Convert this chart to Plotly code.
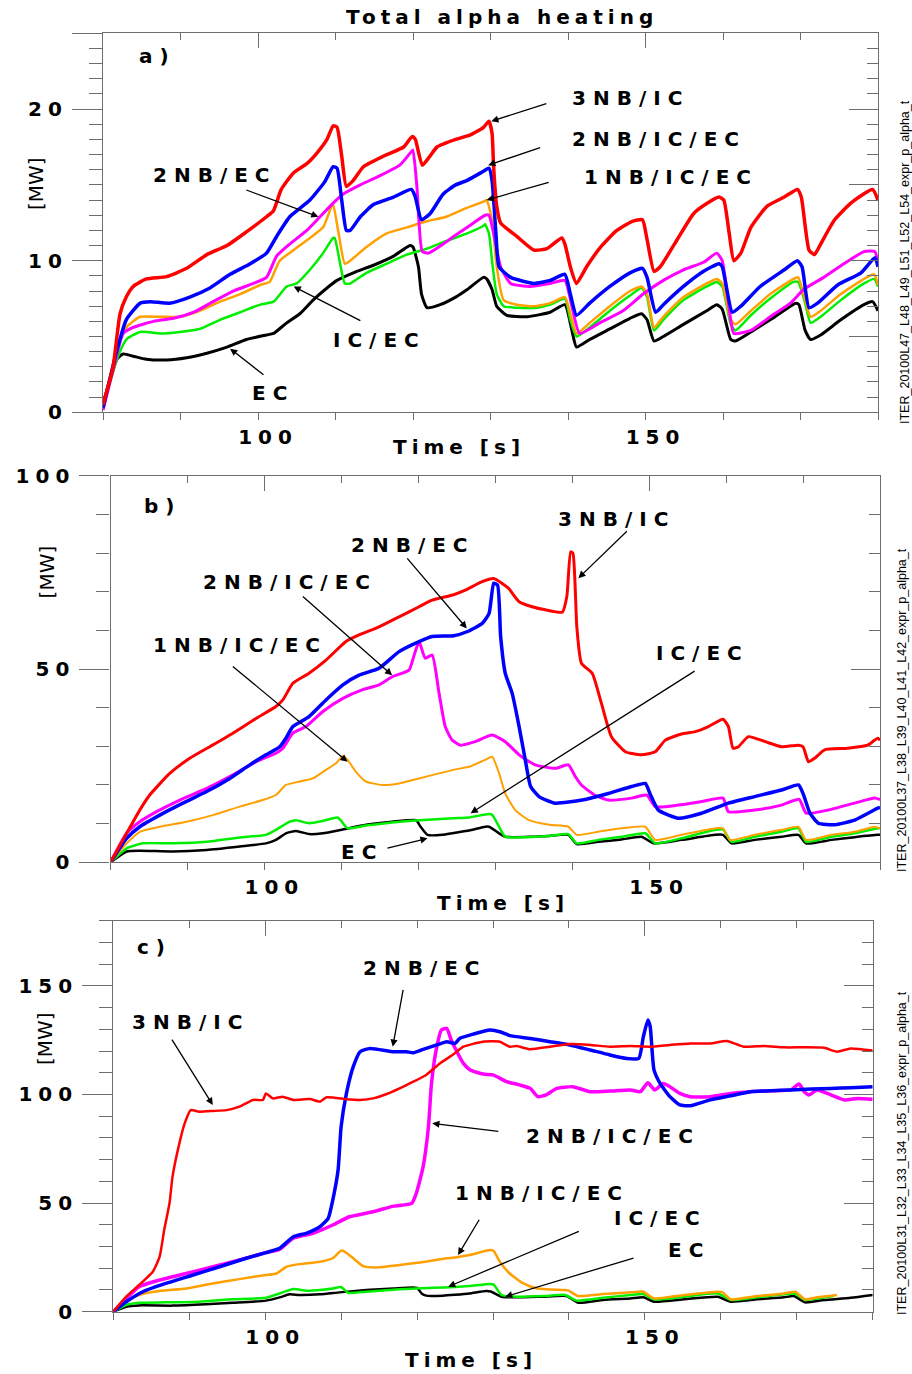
import plotly.graph_objects as go

# ---------------------------------------------------------------------------
# Total alpha heating [MW] vs time [s]; (time, power) samples for each scenario
# ---------------------------------------------------------------------------

# ---- panel a) ----
A_3NB_IC = [(80, 0.5), (81.3, 3.0), (82.2, 6.5), (83, 7.6), (83.9, 8.3), (85.6, 8.8), (88.2, 8.95), (90.8, 9.5),
            (93.4, 10.4), (96, 11.0), (98.5, 11.9), (101.1, 12.9), (102, 13.3), (103, 14.7), (104.6, 15.8),
            (106.3, 16.4), (107.6, 17.1), (108.9, 18.0), (109.7, 18.9), (110.2, 18.8), (110.8, 16.9), (111.4, 14.9),
            (112.3, 15.3), (113.6, 16.2), (116.2, 16.9), (118.8, 17.5), (119.9, 18.2), (120.3, 18.0), (121.2, 16.3),
            (122.2, 16.9), (123.1, 17.5), (125.5, 18.0), (127.4, 18.3), (129.1, 18.8), (129.8, 19.2), (130.2, 18.4),
            (130.4, 16.2), (130.8, 13.6), (131.3, 12.5), (133.4, 11.6), (135.6, 10.7), (137.3, 10.8), (139.2, 11.5),
            (139.6, 11.1), (140.3, 9.6), (141.1, 8.5), (142.4, 9.6), (144.2, 10.9), (146.3, 12.0), (148.3, 12.6),
            (149.6, 12.7), (150.2, 11.4), (151.1, 9.3), (151.9, 9.6), (154.1, 11.4), (156.2, 13.1), (158, 13.8),
            (159.5, 14.2), (160.1, 14.0), (160.8, 11.8), (161.4, 10.0), (162.3, 10.5), (163.6, 12.2), (165.7, 13.6),
            (167.9, 14.2), (169.6, 14.7), (170.1, 14.2), (171.1, 10.7), (171.8, 10.4), (172.6, 11.1), (174.4, 12.7),
            (176.5, 13.8), (179.3, 14.7), (180, 14.0)]
A_2NB_IC_EC = [(80, 0.3), (81.8, 4.1), (83, 6.1), (84.8, 7.2), (86.1, 7.3), (88.6, 7.2), (91.2, 7.6), (93.8, 8.2),
               (96.4, 9.1), (99, 9.8), (101.1, 10.5), (102.4, 11.6), (104.1, 12.9), (106.7, 14.0), (108.6, 15.2),
               (109.7, 16.2), (110.2, 16.1), (110.8, 14.0), (111.4, 12.0), (111.9, 12.0), (113.2, 12.9), (114.9, 13.7),
               (117.5, 14.2), (119.8, 14.7), (120.3, 14.2), (121.1, 12.7), (122.2, 13.1), (123.9, 14.4), (125.5, 15.0),
               (127, 15.3), (129.1, 15.9), (129.8, 16.1), (130.2, 15.3), (130.7, 11.8), (131.1, 9.6), (132.6, 8.9),
               (135.6, 8.5), (137.7, 8.7), (139.6, 9.1), (140.3, 7.8), (141.1, 6.4), (142.8, 7.2), (145.4, 8.3),
               (148, 9.2), (149.6, 9.5), (150.2, 8.9), (151.3, 6.6), (152.3, 7.1), (154.9, 8.3), (157.5, 9.3),
               (159.5, 9.8), (159.9, 9.6), (161.2, 6.6), (162.3, 7.0), (164.8, 8.3), (167.9, 9.4), (169.6, 10.0),
               (170.2, 9.6), (171.1, 6.9), (172.2, 7.2), (174.8, 8.4), (177.8, 9.2), (179.6, 10.2), (180, 9.6)]
A_2NB_EC = [(80, 0.15), (81.3, 2.8), (82.6, 5.2), (83.9, 5.6), (86.5, 6.0), (89.1, 6.2), (91.7, 6.6), (94.2, 7.3),
            (96.8, 8.0), (99.4, 8.5), (101.1, 8.9), (102.4, 10.3), (104.1, 11.1), (106.3, 12.0), (108, 12.9),
            (109.7, 13.8), (111, 14.4), (113.2, 15.0), (115.7, 15.6), (118.3, 16.3), (119.8, 17.2), (120.0, 17.3),
            (120.5, 14.9), (121.2, 10.6), (122, 10.5), (123.9, 11.1), (125.5, 11.7), (127, 12.2), (129.3, 13.0),
            (129.8, 13.0), (130.4, 11.8), (131.3, 9.6), (132.6, 8.5), (135.1, 8.3), (137.7, 8.5), (139.6, 8.7),
            (140.5, 7.0), (141.5, 5.2), (144.1, 5.9), (147.1, 6.7), (149.7, 7.8), (152.3, 8.7), (154.9, 9.4),
            (157.5, 9.9), (159.2, 10.5), (159.9, 10.0), (161.0, 6.1), (161.4, 5.2), (163.6, 5.4), (166.1, 6.3),
            (168.7, 7.2), (170.4, 8.1), (173, 8.9), (175.6, 9.8), (178.2, 10.6), (179.6, 10.6), (180, 9.8)]
A_1NB_IC_EC = [(80, 0.4), (81.8, 4.1), (83, 5.6), (84.8, 6.3), (87.4, 6.3), (89.9, 6.3), (92.5, 6.7), (95.1, 7.3),
               (97.7, 7.8), (100.3, 8.4), (101.5, 8.6), (102.8, 10.0), (104.6, 10.7), (106.7, 11.5), (108.4, 12.2),
               (109.5, 13.6), (109.7, 13.7), (110.4, 11.8), (111.2, 9.8), (111.9, 10.0), (114, 10.9), (116.6, 11.8),
               (119.2, 12.2), (121.8, 12.6), (124.3, 12.9), (127, 13.5), (129.1, 13.9), (129.5, 14.0), (130.2, 12.7),
               (130.8, 9.6), (131.7, 7.4), (133.4, 7.1), (135.6, 7.0), (137.7, 7.2), (139.6, 7.6), (140.3, 6.5),
               (141.1, 5.2), (142.8, 5.9), (145.4, 7.0), (148, 8.0), (149.5, 8.3), (150.2, 7.8), (151.1, 5.6),
               (152.3, 6.3), (154.9, 7.6), (157.9, 8.5), (159.2, 8.8), (159.9, 8.5), (161.0, 6.1), (161.6, 5.8),
               (163.6, 6.7), (166.1, 7.8), (169.1, 8.8), (169.7, 8.9), (170.6, 7.4), (171.3, 6.3), (172.6, 6.7),
               (175.2, 7.8), (178.2, 8.8), (179.5, 9.1), (180, 8.4)]
A_IC_EC = [(80, 0.3), (81.8, 3.5), (83, 4.8), (84.8, 5.3), (87.4, 5.2), (89.9, 5.3), (92.5, 5.5), (95.1, 6.1),
           (97.7, 6.6), (100.3, 7.1), (102, 7.3), (103.7, 8.3), (105, 8.5), (106.7, 9.4), (108.4, 10.5), (109.7, 11.5),
           (109.9, 11.5), (110.6, 9.8), (111.2, 8.5), (111.9, 8.5), (114, 9.2), (116.6, 9.8), (119.2, 10.4),
           (121.8, 10.8), (124.3, 11.3), (127, 11.8), (129.1, 12.3), (129.3, 12.4), (129.8, 11.8), (130.2, 10.0),
           (130.8, 7.8), (131.7, 7.0), (133.4, 6.9), (136, 6.9), (137.7, 7.1), (139.6, 7.5), (140.3, 6.1),
           (141.1, 5.0), (142.8, 5.6), (145.4, 6.7), (148, 7.7), (149.5, 8.2), (150.2, 7.6), (151.1, 5.4),
           (152.3, 6.1), (154.9, 7.4), (157.9, 8.3), (159.2, 8.6), (159.9, 8.3), (161, 5.8), (161.6, 5.4),
           (163.6, 6.4), (166.1, 7.5), (169.1, 8.6), (169.7, 8.6), (170.6, 7.2), (171.3, 5.9), (172.6, 6.3),
           (175.2, 7.4), (178.2, 8.5), (179.5, 8.8), (180, 8.3)]
A_EC = [(80, 0.6), (80.9, 2.1), (81.8, 3.5), (82.6, 3.85), (83.9, 3.7), (85.6, 3.5), (88.2, 3.45), (90.8, 3.6),
        (93.4, 3.9), (96, 4.3), (98.5, 4.8), (101.1, 5.1), (102, 5.2), (103.7, 5.9), (105.4, 6.5), (107.1, 7.4),
        (108.9, 8.2), (110.2, 8.7), (112.3, 9.2), (114.9, 9.7), (117.5, 10.3), (119.6, 11.0), (120, 10.9),
        (120.7, 9.6), (121.1, 7.8), (121.8, 6.9), (123.5, 7.1), (125.5, 7.6), (127, 8.1), (129.1, 8.9),
        (129.5, 8.8), (130.2, 8.1), (130.8, 7.0), (132.1, 6.4), (134.7, 6.3), (137.7, 6.6), (139.6, 7.1),
        (140.5, 5.4), (141.1, 4.3), (142.8, 4.8), (145.4, 5.5), (148, 6.2), (149.5, 6.5), (150.2, 6.1),
        (151.1, 4.7), (152.3, 5.0), (154.9, 5.8), (157.9, 6.7), (159.2, 7.1), (159.9, 6.8), (161, 4.8),
        (161.6, 4.7), (163.6, 5.3), (166.1, 6.1), (169.4, 7.2), (169.8, 7.1), (170.6, 5.4), (171.3, 4.8),
        (172.6, 5.1), (175.2, 6.1), (178.2, 7.1), (179.3, 7.3), (180, 6.7)]

# ---- panel b) ----
B_3NB_IC = [(80, 0), (82.1, 7.5), (83.8, 13.5), (85.1, 17.4), (87.7, 23.0), (90.3, 26.9), (92.9, 29.9), (95.9, 33.4),
            (98.9, 37.2), (101.5, 40.3), (102.4, 42.0), (103.7, 46.3), (105.8, 48.9), (108, 52.3), (110.6, 57.1),
            (112.3, 58.8), (114.9, 60.9), (117.5, 63.5), (120.1, 66.1), (121.8, 67.8), (124.6, 69.2), (126.1, 70.4),
            (128.3, 72.6), (129.8, 73.4), (131.7, 70.9), (133.1, 67.4), (134.8, 66.1), (136.5, 65.3), (138.7, 64.7),
            (139.3, 68.7), (139.8, 80.3), (140.1, 79.9), (140.6, 60.9), (141.2, 51.5), (142.6, 48.9), (143.8, 41.1),
            (145.1, 32.5), (146.9, 28.6), (149, 27.8), (150.8, 28.6), (152.1, 31.6), (154.2, 33.2), (156, 33.8),
            (157.7, 35.1), (159.6, 37.0), (160.3, 35.1), (160.9, 29.5), (161.6, 29.9), (162.9, 32.5), (165.1, 31.2),
            (167.2, 29.9), (169.4, 30.3), (170, 29.9), (170.7, 26.0), (171.5, 26.9), (172.8, 29.1), (175.8, 29.5),
            (178.4, 30.3), (179.7, 32.1), (180, 31.6)]
B_2NB_EC = [(80, 0), (82.1, 6.2), (83.8, 9.2), (86.4, 12.2), (89.4, 15.3), (92.5, 18.3), (95.5, 21.7), (98.1, 25.2),
            (100.2, 27.8), (102, 29.9), (102.8, 32.1), (103.7, 35.1), (105.8, 37.7), (108, 42.0), (110.2, 45.9),
            (112.3, 48.4), (114.9, 50.2), (117.5, 54.5), (120.1, 57.1), (121.8, 58.4), (124.6, 58.6), (126.4, 59.7),
            (128.3, 61.8), (129.2, 64.4), (129.8, 72.2), (130.3, 71.7), (130.7, 58.4), (131.3, 48.9), (132.2, 43.7),
            (133.1, 35.1), (133.9, 26.5), (134.6, 19.6), (135.7, 17.0), (137.8, 15.3), (141.3, 16.1), (144.7, 17.8),
            (147.7, 19.6), (149.5, 20.4), (150.1, 17.8), (151.2, 13.5), (153.8, 11.4), (156.8, 12.7), (160.3, 15.3),
            (163.7, 17.0), (167.2, 18.7), (169.4, 20.0), (170, 17.8), (170.9, 12.7), (172, 10.1), (174.1, 9.7),
            (176.7, 10.9), (179.7, 14.0), (180, 14.2)]
B_2NB_IC_EC = [(80, 0), (82.1, 7.5), (83.8, 10.5), (86, 13.1), (89, 16.1), (92.5, 19.1), (95.9, 22.6), (98.9, 26.0),
               (101.5, 28.2), (102.4, 29.5), (103.7, 33.4), (105.4, 35.1), (107.6, 39.0), (110.2, 42.4), (112.7, 44.6),
               (114.9, 45.9), (116.6, 48.0), (118.8, 49.7), (119.4, 53.2), (120.1, 57.1), (120.9, 52.8), (121.8, 53.6),
               (122.7, 43.7), (123.5, 35.1), (124.4, 31.6), (125.5, 30.3), (127.4, 31.2), (129.6, 32.9), (131.3, 31.2),
               (133.1, 27.8), (135.2, 25.2), (137.8, 24.3), (139.5, 25.2), (140.4, 22.2), (141.2, 20.0), (142.9, 17.4),
               (144.7, 16.1), (147.7, 16.6), (149.7, 17.4), (150.8, 14.4), (153.8, 14.8), (156.8, 15.7), (159.6, 16.6),
               (160.3, 13.1), (163.7, 13.5), (167.2, 14.8), (169.5, 16.3), (170.4, 12.7), (173.2, 13.5), (176.7, 15.3),
               (179.3, 16.6), (180, 16.2)]
B_1NB_IC_EC = [(80, 0), (82.1, 4.9), (83.8, 7.9), (86.4, 9.2), (89.9, 10.5), (93.3, 12.2), (96.8, 14.4), (99.8, 16.1),
               (101.5, 17.4), (102.8, 20.0), (104.6, 20.9), (106.3, 21.7), (108, 23.9), (109.3, 25.6), (110.2, 27.5),
               (110.8, 26.5), (111.9, 23.4), (113.2, 20.9), (115.3, 20.0), (117.5, 20.4), (120.1, 21.7), (122.7, 23.0),
               (125, 24.1), (126.6, 24.7), (128.7, 26.5), (129.6, 27.3), (130.5, 23.0), (131.3, 17.8), (132.6, 13.5),
               (134.4, 10.9), (137, 9.7), (139.5, 9.2), (140.6, 7.1), (143.4, 7.9), (146.4, 8.8), (149.5, 9.2),
               (150.8, 5.8), (154.2, 7.1), (158.6, 8.8), (159.6, 8.8), (160.5, 5.8), (163.7, 7.1), (167.2, 8.4),
               (169.4, 9.2), (170.4, 5.8), (173.7, 7.1), (176.7, 7.9), (179.3, 9.2), (180, 8.8)]
B_IC_EC = [(80, 0), (82.1, 3.6), (84.2, 4.9), (88.1, 4.9), (92.5, 5.3), (96.8, 6.4), (100.2, 7.1), (101.5, 8.4),
           (103.3, 10.5), (104.1, 10.9), (105.8, 10.1), (107.6, 10.7), (109.5, 11.6), (109.9, 10.9), (110.8, 8.8),
           (113.2, 9.5), (116.6, 10.3), (120.1, 10.9), (124.6, 11.4), (126.6, 11.6), (129.2, 12.5), (129.6, 12.3),
           (130.5, 9.2), (131.3, 6.6), (133.9, 6.5), (137, 6.8), (139.5, 7.3), (140.6, 4.9), (143.4, 5.8),
           (146.4, 6.6), (149.5, 7.5), (150.8, 4.9), (154.2, 6.2), (158.6, 8.4), (159.6, 8.5), (160.7, 5.3),
           (163.7, 6.6), (167.2, 7.9), (169.4, 8.8), (170.4, 5.3), (173.7, 6.6), (176.7, 7.5), (179.7, 8.8), (180, 8.8)]
B_EC = [(80, 0), (82.1, 2.8), (83.8, 3.0), (88.1, 2.8), (92.5, 3.2), (96.8, 4.1), (100.2, 4.9), (101.5, 5.8),
        (102.8, 7.5), (104.1, 8.1), (105.8, 7.3), (107.6, 7.5), (110.2, 8.5), (113.2, 9.7), (116.6, 10.5),
        (119.7, 10.9), (120.3, 9.2), (121.2, 7.1), (123.1, 7.1), (124.6, 7.6), (126.6, 8.2), (128.7, 9.2),
        (129.2, 9.2), (130.5, 7.5), (131.3, 6.6), (134.8, 6.6), (137, 6.8), (139.5, 7.1), (140.6, 4.7), (143.4, 5.3),
        (146.4, 5.9), (149, 6.6), (150.6, 4.9), (154.2, 5.8), (158.6, 7.1), (159.6, 7.1), (160.7, 4.9), (163.7, 5.8),
        (167.2, 6.6), (169.4, 7.1), (170.4, 4.9), (173.7, 5.8), (176.7, 6.5), (179.7, 7.1), (180, 7.1)]

# ---- panel c) ----
C_3NB_IC = [(80, 0), (81.7, 6.9), (83.4, 12.3), (85.2, 18.4), (86.1, 25.3), (86.7, 37.6), (87.4, 49.9), (87.8, 62.2),
            (88.7, 77.5), (89.4, 86.7), (90.2, 92.8), (91.3, 92.1), (93.1, 92.4), (94.9, 92.8), (96.6, 94.4),
            (98.4, 97.5), (99.7, 97.5), (100.1, 100.5), (101, 98.2), (102.3, 99.0), (103.7, 97.5), (105.9, 97.9),
            (107.2, 96.7), (108.1, 98.7), (110.7, 97.8), (112.5, 97.5), (114.2, 98.2), (116, 100.2), (117.7, 102.8),
            (119.5, 105.9), (121.2, 109.0), (123, 114.3), (124.8, 118.5), (126.1, 122.0), (128.7, 124.3),
            (130.9, 124.3), (132.2, 122.0), (133.1, 122.3), (134.9, 120.8), (137.5, 122.0), (140.1, 123.2),
            (142.8, 122.8), (145.4, 122.0), (148.1, 122.3), (150.7, 122.0), (153.3, 122.8), (156, 123.5),
            (158.6, 123.5), (160.8, 124.6), (163, 122.0), (165.7, 122.3), (168.3, 121.7), (170.9, 121.7),
            (173.6, 121.5), (175.3, 119.7), (177.1, 121.2), (180, 120.2)]
C_2NB_EC = [(80, 0), (81.7, 4.6), (83.9, 9.2), (86.9, 13.0), (90.5, 16.9), (94, 20.7), (97.5, 24.6), (100.1, 27.2),
            (101.9, 29.2), (103.7, 34.5), (105.4, 36.1), (107.2, 39.1), (108.3, 43.0), (108.9, 51.4), (109.6, 65.2),
            (110, 85.2), (110.7, 100.5), (111.6, 112.8), (112.5, 119.7), (113.8, 121.2), (116.9, 119.7),
            (118.6, 119.7), (119.5, 119.2), (120.8, 120.8), (122.6, 122.8), (123.9, 124.3), (125, 123.5),
            (125.6, 125.8), (127.4, 127.8), (129.6, 129.7), (130.9, 128.9), (132.2, 127.1), (134.9, 125.8),
            (137.5, 124.3), (140.1, 122.8), (142.8, 120.5), (145.4, 118.2), (147.6, 116.6), (149.2, 116.6),
            (149.8, 126.6), (150.4, 134.3), (150.7, 131.2), (151.2, 111.3), (152, 105.1), (153.3, 99.0),
            (154.6, 95.2), (156, 94.8), (158.6, 97.5), (161.3, 99.4), (163.9, 101.3), (166.6, 101.7), (169.2, 102.1),
            (171.9, 102.5), (174.5, 102.8), (177.1, 103.1), (180, 103.6)]
C_2NB_IC_EC = [(80, 0), (81.7, 6.1), (83.4, 11.5), (86.1, 14.6), (89.6, 17.6), (93.1, 20.7), (96.6, 23.8),
               (100.1, 27.2), (101.9, 28.7), (103.7, 33.8), (106.3, 36.1), (108.9, 39.9), (111.1, 43.7),
               (114.2, 46.0), (116.9, 48.6), (119.3, 49.9), (119.9, 54.5), (120.8, 66.8), (121.5, 85.2),
               (121.9, 105.1), (122.6, 122.0), (123.2, 129.7), (123.9, 130.4), (124.5, 125.1), (125.2, 120.0),
               (126.1, 114.3), (127, 111.3), (128.7, 109.4), (130, 109.0), (131.8, 105.9), (133.5, 104.4),
               (134.9, 102.8), (135.9, 99.0), (137, 99.8), (138.4, 102.8), (140.5, 103.6), (142.8, 101.3),
               (145.4, 101.6), (148.1, 102.1), (149.4, 101.3), (150.4, 105.4), (151.3, 102.1), (152.4, 105.1),
               (153.3, 103.6), (154.6, 100.5), (156, 99.0), (158.6, 99.0), (161.3, 100.5), (163.9, 101.3),
               (166.6, 101.7), (169.2, 102.1), (170.3, 104.8), (171, 101.3), (171.6, 99.8), (172.7, 102.1),
               (174.5, 99.8), (176.3, 97.5), (178, 98.2), (180, 97.8)]
C_1NB_IC_EC = [(80, 0), (81.7, 4.6), (83.4, 7.7), (86.1, 9.5), (89.6, 10.7), (93.1, 13.0), (96.6, 15.0), (100.1, 16.9),
               (101.5, 17.6), (102.8, 20.7), (104.5, 21.9), (107.2, 23.0), (108.9, 24.6), (110, 28.1), (110.4, 27.8),
               (111.6, 24.6), (112.9, 21.0), (114.7, 20.4), (117.7, 21.5), (120.4, 22.6), (123, 24.1), (125, 25.0),
               (126.9, 26.1), (129.6, 28.4), (130.1, 28.0), (130.9, 23.0), (132.2, 17.6), (134, 13.0), (135.8, 10.7),
               (139.3, 10.0), (139.9, 9.8), (141.2, 7.2), (144.5, 8.1), (148.1, 8.9), (149.8, 9.2), (151.2, 6.1),
               (155.2, 7.7), (159.6, 9.2), (160.2, 9.0), (161.3, 5.7), (164.8, 7.2), (168.3, 8.4), (169.8, 9.2),
               (171.1, 5.7), (172.7, 6.6), (175.3, 7.7)]
C_IC_EC = [(80, 0), (81.7, 3.1), (83.4, 4.1), (86.9, 4.3), (91.3, 4.6), (95.7, 5.7), (100.1, 6.4), (101.9, 8.4),
           (103.7, 10.4), (105.4, 9.7), (107.2, 10.0), (108.9, 10.7), (110, 11.4), (110.9, 8.7), (113.3, 9.2),
           (117.7, 10.3), (122.1, 11.0), (125, 11.4), (126.9, 11.8), (129.6, 12.7), (130.1, 12.5), (131.1, 7.7),
           (133.1, 6.9), (136.6, 7.2), (139.5, 7.7), (141, 5.1), (144.5, 6.4), (148.1, 7.7), (149.8, 8.1),
           (151.2, 5.7), (155.2, 6.9), (159.6, 8.4), (161.3, 5.4), (164.8, 6.6), (168.3, 8.0), (169.8, 8.3),
           (171.1, 5.4), (172.7, 6.1), (174.9, 7.2)]
C_EC = [(80, 0), (81.7, 2.3), (83.4, 2.9), (87.8, 2.8), (92.2, 3.4), (95.7, 4.1), (100.1, 5.1), (101.9, 6.6),
        (103.2, 8.0), (104.5, 7.7), (107.2, 8.0), (109.8, 8.9), (113.3, 10.0), (116.9, 10.7), (120, 11.0),
        (120.6, 8.4), (121.2, 7.4), (123.4, 7.4), (125, 7.8), (126.9, 8.4), (129.1, 9.5), (129.7, 9.3), (131.1, 6.9),
        (133.1, 6.6), (136.6, 6.9), (139.7, 7.2), (141.2, 4.1), (144.5, 5.4), (148.1, 6.1), (149.8, 6.6),
        (151.2, 4.6), (155.2, 5.7), (159.6, 6.9), (161.3, 4.6), (164.8, 5.7), (168.3, 6.6), (169.6, 7.2),
        (171.1, 4.3), (173.6, 5.4), (177.1, 6.4), (180, 7.7)]

# axis settings
X_RANGE = [80, 180]
X_TICKS = [100, 150]
A_Y_RANGE, A_Y_LABELS, A_Y_RIGHT = [0, 25], [0, 10, 20, 25], [0, 5, 10, 15, 20, 25]
B_Y_RANGE, B_Y_LABELS, B_Y_RIGHT = [0, 100], [0, 50, 100], [0, 50, 100]
C_Y_RANGE, C_Y_LABELS, C_Y_RIGHT = [0, 180], [0, 50, 100, 150], [0, 50, 100, 150]
UNLABELLED = {25}

RUN_IDS = ["ITER_20100L47_L48_L49_L51_L52_L54_expr_p_alpha_t",
           "ITER_20100L37_L38_L39_L40_L41_L42_expr_p_alpha_t",
           "ITER_20100L31_L32_L33_L34_L35_L36_expr_p_alpha_t"]

RED, BLUE, MAGENTA, ORANGE, GREEN, BLACK = "#ff0000", "#0000ff", "#ff00ff", "#ffa000", "#00ee00", "#000000"
FONT = "DejaVu Sans"
AX_COLOR = "#6e6e6e"


def spaced(s, ls=6):
    return f'<span style="letter-spacing:{ls}px">{s}</span>'


panels = [
    dict(tag="a)", yr=A_Y_RANGE, ylab=A_Y_LABELS, yright=A_Y_RIGHT, ystep=1,
         xdom=[103 / 912, 878 / 912], ydom=[1 - 412.3 / 1374, 1 - 33.3 / 1374],
         series=[("EC", A_EC, BLACK, 3), ("IC/EC", A_IC_EC, GREEN, 2.5),
                 ("1NB/IC/EC", A_1NB_IC_EC, ORANGE, 2.5), ("2NB/EC", A_2NB_EC, MAGENTA, 3),
                 ("2NB/IC/EC", A_2NB_IC_EC, BLUE, 3.5), ("3NB/IC", A_3NB_IC, RED, 3.5)],
         labels=[("a)", 86.7, 23.5), ("3NB/IC", 147.7, 20.7), ("2NB/IC/EC", 151.3, 18.0),
                 ("1NB/IC/EC", 152.9, 15.5), ("2NB/EC", 94.0, 15.65), ("IC/EC", 115.3, 4.8), ("EC", 101.6, 1.3)],
         arrows=[((137.4, 20.4), (130.1, 19.2)), ((136.6, 17.5), (129.7, 16.3)), ((137.7, 15.2), (129.5, 14.0)),
                 ((98.3, 14.7), (107.8, 12.9)), ((113.4, 6.0), (104.6, 8.3)), ((100.9, 2.4), (96.4, 4.2))],
         ylabel_pos=(36, 184), xlabel_pos=(456, 447), run_pos=(905, 262)),
    dict(tag="b)", yr=B_Y_RANGE, ylab=B_Y_LABELS, yright=B_Y_RIGHT, ystep=10,
         xdom=[110.5 / 912, 880 / 912], ydom=[1 - 862.3 / 1374, 1 - 475.7 / 1374],
         series=[("EC", B_EC, BLACK, 2.5), ("IC/EC", B_IC_EC, GREEN, 2.5),
                 ("1NB/IC/EC", B_1NB_IC_EC, ORANGE, 2), ("2NB/IC/EC", B_2NB_IC_EC, MAGENTA, 3),
                 ("2NB/EC", B_2NB_EC, BLUE, 3.5), ("3NB/IC", B_3NB_IC, RED, 3)],
         labels=[("b)", 86.4, 92.2), ("2NB/EC", 118.9, 82.1), ("2NB/IC/EC", 103.0, 72.6),
                 ("1NB/IC/EC", 96.5, 56.2), ("3NB/IC", 145.4, 88.7), ("IC/EC", 156.6, 54.1), ("EC", 112.3, 2.7)],
         arrows=[((118.4, 79.0), (126.3, 60.5)), ((104.8, 69.1), (116.6, 48.4)), ((95.7, 51.0), (110.8, 26.0)),
                 ((147.3, 86.0), (140.8, 73.5)), ((156.1, 49.7), (126.8, 12.7)), ((115.8, 3.6), (121.2, 6.2))],
         ylabel_pos=(46.7, 571.7), xlabel_pos=(500, 903), run_pos=(902, 710)),
    dict(tag="c)", yr=C_Y_RANGE, ylab=C_Y_LABELS, yright=C_Y_RIGHT, ystep=10,
         xdom=[113.3 / 912, 872.7 / 912], ydom=[1 - 1311.7 / 1374, 1 - 920.7 / 1374],
         series=[("EC", C_EC, BLACK, 2.5), ("IC/EC", C_IC_EC, GREEN, 2.5),
                 ("1NB/IC/EC", C_1NB_IC_EC, ORANGE, 2.5), ("2NB/IC/EC", C_2NB_IC_EC, MAGENTA, 3.5),
                 ("2NB/EC", C_2NB_EC, BLUE, 3.5), ("3NB/IC", C_3NB_IC, RED, 2.5)],
         labels=[("c)", 85.0, 168.0), ("3NB/IC", 89.8, 133.5), ("2NB/EC", 120.6, 158.1),
                 ("2NB/IC/EC", 145.4, 80.9), ("1NB/IC/EC", 136.0, 54.5), ("IC/EC", 151.6, 43.0), ("EC", 155.4, 28.4)],
         arrows=[((87.6, 125.9), (93.1, 95.2)), ((118.2, 148.9), (116.8, 122.0)), ((130.9, 82.9), (122.0, 86.7)),
                 ((128.3, 43.0), (125.4, 26.1)), ((141.5, 37.3), (124.1, 11.5)), ((148.7, 24.9), (131.6, 6.9))],
         ylabel_pos=(45, 1039), xlabel_pos=(467.5, 1360), run_pos=(902, 1153)),
]

W, H = 912, 1374
fig = go.Figure()
layout = dict(width=W, height=H, margin=dict(l=0, r=0, t=0, b=0, pad=0, autoexpand=False), showlegend=False,
              plot_bgcolor="white", paper_bgcolor="white", annotations=[])


def paper(px, py):
    return px / W, 1 - py / H


tick_font = dict(family=FONT, size=20, color="black", weight="bold")
label_font = dict(family=FONT, size=20, color="black", weight="bold")
common = dict(automargin=False, showgrid=False, zeroline=False, fixedrange=True)

for i, p in enumerate(panels, start=1):
    sfx = "" if i == 1 else str(i)
    xid, yid = f"x{sfx}", f"y{sfx}"
    xt, yr_id = f"x{i + 3}", f"y{i + 3}"

    for name, pts, color, width in p["series"]:
        t, v = zip(*pts)
        fig.add_trace(go.Scatter(x=t, y=v, mode="lines", name=name, xaxis=xid, yaxis=yid,
                                 line=dict(color=color, width=width, shape="spline", smoothing=0.5),
                                 hoverinfo="skip"))
    # empty traces so that the top / right tick axes get their own subplots
    fig.add_trace(go.Scatter(x=[], y=[], xaxis=xt, yaxis=yid, hoverinfo="skip"))
    fig.add_trace(go.Scatter(x=[], y=[], xaxis=xid, yaxis=yr_id, hoverinfo="skip"))

    layout[f"xaxis{sfx}"] = dict(
        domain=p["xdom"], range=X_RANGE, anchor=yid, showline=True, mirror=True, linecolor=AX_COLOR,
        linewidth=1.3, ticks="outside", ticklen=7, tickwidth=1, tickcolor=AX_COLOR,
        tickmode="array", tickvals=X_TICKS, ticktext=[spaced(str(v)) for v in X_TICKS], tickfont=tick_font,
        ticklabelshift=10, ticklabelstandoff=0,
        minor=dict(tickmode="linear", tick0=0, dtick=10, ticks="outside", ticklen=7, tickcolor=AX_COLOR),
        **common)
    layout[f"xaxis{i + 3}"] = dict(
        overlaying=xid, anchor=yid, side="top", range=X_RANGE, showline=False, ticks="inside", ticklen=15,
        tickwidth=1, tickcolor=AX_COLOR, tickmode="array", tickvals=X_TICKS, showticklabels=False,
        minor=dict(tickmode="linear", tick0=0, dtick=10, ticks="inside", ticklen=7, tickcolor=AX_COLOR),
        **common)
    layout[f"yaxis{sfx}"] = dict(
        domain=p["ydom"], range=p["yr"], anchor=xid, showline=True, mirror=True, linecolor=AX_COLOR,
        linewidth=1.3, ticks="outside", ticklen=30, tickwidth=1, tickcolor=AX_COLOR,
        tickmode="array", tickvals=p["ylab"],
        ticktext=["" if v in UNLABELLED and i == 1 else spaced(str(v)) for v in p["ylab"]], tickfont=tick_font,
        minor=dict(tickmode="linear", tick0=0, dtick=p["ystep"], ticks="outside", ticklen=13, tickcolor=AX_COLOR),
        **common)
    layout[f"yaxis{i + 3}"] = dict(
        overlaying=yid, anchor=xid, side="right", range=p["yr"], showline=False, ticks="inside", ticklen=29,
        tickwidth=1, tickcolor=AX_COLOR, tickmode="array", tickvals=p["yright"], showticklabels=False,
        minor=dict(tickmode="linear", tick0=0, dtick=p["ystep"], ticks="inside", ticklen=11, tickcolor=AX_COLOR),
        **common)

    for text, tx, ty in p["labels"]:
        layout["annotations"].append(dict(
            x=tx, y=ty, xref=xid, yref=yid, text=spaced(text, 7), showarrow=False, xanchor="center",
            yanchor="middle", xshift=3, font=label_font))
    for (ax, ay), (hx, hy) in p["arrows"]:
        layout["annotations"].append(dict(
            x=hx, y=hy, ax=ax, ay=ay, xref=xid, yref=yid, axref=xid, ayref=yid, text="", showarrow=True,
            arrowhead=2, arrowsize=1.1, arrowwidth=1.3, arrowcolor="black", standoff=0, startstandoff=0))

    # axis titles and run identifier
    px, py = paper(*p["ylabel_pos"])
    layout["annotations"].append(dict(x=px, y=py, xref="paper", yref="paper", text="[MW]", showarrow=False,
                                      xanchor="center", yanchor="middle", textangle=-90,
                                      font=dict(family=FONT, size=20, color="black")))
    px, py = paper(*p["xlabel_pos"])
    layout["annotations"].append(dict(x=px, y=py, xref="paper", yref="paper", text=spaced("Time [s]", 5),
                                      showarrow=False, xanchor="center", yanchor="middle", xshift=3,
                                      font=label_font))
    px, py = paper(*p["run_pos"])
    layout["annotations"].append(dict(x=px, y=py, xref="paper", yref="paper", text=RUN_IDS[i - 1],
                                      showarrow=False, xanchor="center", yanchor="middle", textangle=-90,
                                      font=dict(family="Liberation Sans", size=12.5, color="black")))

px, py = paper(499, 17)
layout["annotations"].append(dict(x=px, y=py, xref="paper", yref="paper", text=spaced("Total alpha heating", 5),
                                  showarrow=False, xanchor="center", yanchor="middle", xshift=3,
                                  font=label_font))

fig.update_layout(**layout)
fig.write_html("out.html")
